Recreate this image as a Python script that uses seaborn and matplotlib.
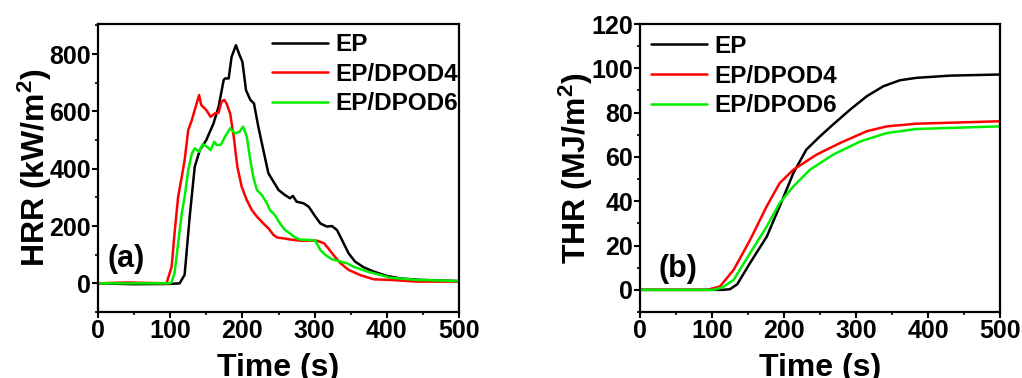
import numpy as np
import pandas as pd
import matplotlib
matplotlib.use("Agg")
import matplotlib.pyplot as plt
from matplotlib.ticker import MultipleLocator
import seaborn as sns

# ---- Heat release rate (kW/m2) versus time (s) ----
ep_hrr_t = [0, 50, 100, 113, 120, 127, 134, 141, 150, 160, 167, 174, 176, 181, 185, 191, 196, 200,
            205, 211, 216, 222, 229, 236, 243, 250, 259, 266, 270, 275, 285, 292, 301, 308, 317,
            324, 331, 338, 347, 356, 368, 382, 400, 419, 447, 500]
ep_hrr = [0, -3, -2, 0, 30, 233, 407, 465, 500, 558, 616, 709, 715, 715, 790, 831, 797, 773,
          674, 640, 628, 547, 465, 384, 355, 326, 308, 297, 305, 285, 279, 267, 233, 209, 198,
          200, 186, 151, 105, 76, 56, 41, 26, 17, 12, 8]

dpod4_hrr_t = [0, 40, 95, 97, 102, 106, 111, 116, 120, 125, 130, 134, 140, 143, 150, 156, 162,
               167, 171, 175, 178, 183, 188, 193, 199, 206, 213, 220, 229, 236, 243, 248, 257,
               266, 280, 303, 313, 319, 326, 336, 347, 363, 382, 405, 442, 500]
dpod4_hrr = [0, 3, 0, 17, 58, 174, 302, 372, 430, 535, 570, 605, 657, 622, 605, 581, 593,
             595, 634, 640, 628, 593, 512, 407, 337, 291, 256, 233, 209, 192, 169, 160, 157,
             153, 149, 149, 140, 122, 99, 70, 47, 29, 14, 12, 6, 6]

dpod6_hrr_t = [0, 50, 100, 102, 106, 111, 116, 120, 125, 130, 134, 140, 145, 151, 156, 161,
               164, 170, 176, 183, 190, 196, 201, 206, 211, 215, 220, 227, 234, 238, 245, 252,
               259, 266, 273, 280, 294, 301, 308, 315, 324, 336, 345, 354, 373, 396, 403, 442, 500]
dpod6_hrr = [0, 0, 0, 6, 35, 140, 244, 302, 395, 453, 471, 459, 486, 477, 465, 494,
             483, 483, 512, 541, 523, 529, 547, 512, 430, 372, 326, 308, 279, 256, 238, 209,
             186, 174, 160, 153, 151, 149, 116, 99, 84, 76, 70, 58, 41, 26, 20, 12, 8]

# ---- Total heat release (MJ/m2) versus time (s) ----
ep_thr_t = [0, 100, 115, 125, 135, 153, 176, 194, 213, 231, 250, 268, 292, 315, 338, 361,
            384, 431, 500]
ep_thr = [0, 0, 0, 0.3, 2.5, 12.2, 24, 37.7, 52.7, 63.3, 69.3, 74.6, 81.4, 87.4, 91.9, 94.6,
          95.7, 96.7, 97.2]

dpod4_thr_t = [0, 90, 97, 111, 130, 153, 176, 194, 213, 245, 278, 315, 343, 384, 500]
dpod4_thr = [0, 0, 0.3, 1.5, 9, 22.6, 37.7, 48.2, 54.2, 61, 66.3, 71.6, 73.8, 75, 76.1]

dpod6_thr_t = [0, 100, 106, 115, 130, 153, 176, 194, 213, 236, 268, 306, 343, 384, 500]
dpod6_thr = [0, 0, 0.3, 1.2, 4.5, 16.6, 28.6, 39.2, 46.7, 54.2, 61, 67, 70.8, 72.6, 73.8]

series_names = ["EP", "EP/DPOD4", "EP/DPOD6"]
series_colors = ["#000000", "#FF0000", "#00EE00"]

sns.set_style("ticks")
plt.rcParams["font.family"] = ["Liberation Sans", "DejaVu Sans"]
plt.rcParams["font.weight"] = "bold"
plt.rcParams["mathtext.fontset"] = "custom"
plt.rcParams["mathtext.rm"] = "Liberation Sans:bold"
plt.rcParams["mathtext.default"] = "rm"
for key in ["text.color", "axes.labelcolor", "xtick.color", "ytick.color", "axes.edgecolor"]:
    plt.rcParams[key] = "black"

fig = plt.figure(figsize=(10.22, 3.78), dpi=100)
ax_a = fig.add_axes([98 / 1022, 1 - 312 / 378, 361 / 1022, 288 / 378])
ax_b = fig.add_axes([640 / 1022, 1 - 312 / 378, 360 / 1022, 288 / 378])


def draw_panel(ax, curves):
    for (t, v), name, color in zip(curves, series_names, series_colors):
        df = pd.DataFrame({"Time": t, "Value": v})
        sns.lineplot(data=df, x="Time", y="Value", ax=ax, color=color, lw=1.8,
                     label=name, estimator=None, sort=False)


draw_panel(ax_a, [(ep_hrr_t, ep_hrr), (dpod4_hrr_t, dpod4_hrr), (dpod6_hrr_t, dpod6_hrr)])
draw_panel(ax_b, [(ep_thr_t, ep_thr), (dpod4_thr_t, dpod4_thr), (dpod6_thr_t, dpod6_thr)])

ax_a.set_xlim(0, 500)
ax_a.set_ylim(-100, 905)
ax_a.yaxis.set_major_locator(MultipleLocator(200))
ax_a.yaxis.set_minor_locator(MultipleLocator(100))
ax_a.set_ylabel("HRR (kW/m$^2$)", fontsize=23, fontweight="bold", labelpad=-3)

ax_b.set_xlim(0, 500)
ax_b.set_ylim(-10, 120)
ax_b.yaxis.set_major_locator(MultipleLocator(20))
ax_b.yaxis.set_minor_locator(MultipleLocator(10))
ax_b.set_ylabel("THR (MJ/m$^2$)", fontsize=23, fontweight="bold", labelpad=-3)

for ax, tag, tag_xy, leg_anchor in [
    (ax_a, "(a)", (0.025, 0.185), (0.482, 0.968)),
    (ax_b, "(b)", (0.05, 0.15), (0.031, 0.962)),
]:
    ax.xaxis.set_major_locator(MultipleLocator(100))
    ax.xaxis.set_minor_locator(MultipleLocator(50))
    ax.set_xlabel("Time (s)", fontsize=23, fontweight="bold", labelpad=7)
    ax.tick_params(which="major", direction="out", length=4, width=1.5,
                   labelsize=18, pad=1, top=False, right=False)
    ax.tick_params(which="minor", direction="out", length=2.5, width=1.2,
                   top=False, right=False)
    for lab in ax.get_xticklabels() + ax.get_yticklabels():
        lab.set_fontweight("bold")
    for sp in ax.spines.values():
        sp.set_linewidth(1.6)
        sp.set_visible(True)
    ax.text(tag_xy[0], tag_xy[1], tag, transform=ax.transAxes, fontsize=22,
            fontweight="bold", va="center", ha="left")
    ax.legend(loc="upper left", bbox_to_anchor=leg_anchor, frameon=False,
              handlelength=2.3, handletextpad=0.3,
              labelspacing=0.27, borderpad=0, borderaxespad=0,
              prop={"weight": "bold", "size": 17.5})

fig.savefig("out.png", dpi=100)
